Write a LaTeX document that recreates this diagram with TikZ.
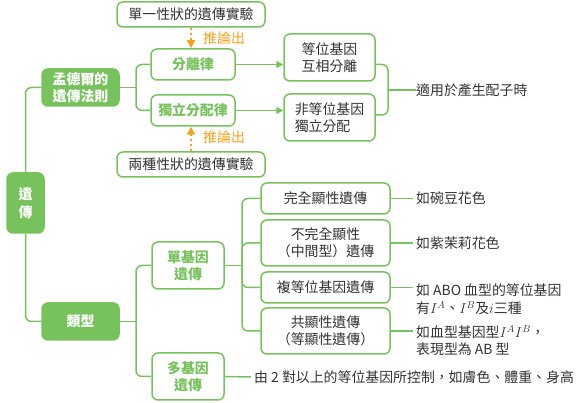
\documentclass[tikz,border=0pt]{standalone}
\usepackage{fontspec}
\setmainfont{Noto Sans CJK TC}
\usetikzlibrary{arrows.meta}
\definecolor{G}{HTML}{78C25E}
\definecolor{OR}{HTML}{F5A21B}
\definecolor{TX}{HTML}{333333}
\begin{document}
\begin{tikzpicture}[x=1pt,y=-1pt,
  every node/.style={font=\fontsize{13.9}{17.5}\selectfont, text=TX},
  box/.style={draw=G, line width=1.5pt, rounded corners=6pt, fill=white, align=center, inner sep=0pt},
  gbox/.style={box, font=\fontsize{13.9}{17.5}\selectfont\bfseries, text=G},
  fbox/.style={draw=G, fill=G, line width=1.5pt, rounded corners=6pt, align=center, inner sep=0pt, font=\fontsize{13.9}{17.5}\selectfont\bfseries, text=white},
  lab/.style={inner sep=0pt, align=left},
  conn/.style={draw=G, line width=1.5pt, rounded corners=6pt},
  garrow/.style={draw=G, line width=1.5pt, -{Triangle[length=7pt,width=7pt]}},
  oarrow/.style={draw=OR, line width=1.5pt, dash pattern=on 2.5pt off 2.5pt, -{Triangle[length=8pt,width=8pt]}},
  olab/.style={text=OR, inner sep=0pt}
]
\useasboundingbox (0,0) rectangle (582,403);

% top experiments
\node[box, minimum width=148pt, minimum height=25pt] (e1) at (191,14.5) {單一性狀的遺傳實驗};
\node[box, minimum width=148pt, minimum height=25pt] (e2) at (191,164.5) {兩種性狀的遺傳實驗};
\node[gbox, minimum width=84pt, minimum height=31pt] (law1) at (193,64.5) {分離律};
\node[gbox, minimum width=84pt, minimum height=31pt] (law2) at (193,110.5) {獨立分配律};
\node[box, minimum width=91pt, minimum height=47pt] (r1) at (329.5,57.5) {等位基因\\互相分離};
\node[box, minimum width=91pt, minimum height=47pt, align=left] (r2) at (329.5,117.5) {非等位基因\\獨立分配};
\node[lab, anchor=west] (app) at (416,90) {適用於產生配子時};
\node[olab, anchor=west] (inf1) at (203,38) {推論出};
\node[olab, anchor=west] (inf2) at (203,137) {推論出};

% root and main branches
\node[fbox, minimum width=37pt, minimum height=60pt] (root) at (25.5,203) {遺\\傳};
\node[fbox, minimum width=77pt, minimum height=37pt] (mendel) at (80.5,87.5) {孟德爾的\\遺傳法則};
\node[fbox, minimum width=77pt, minimum height=37pt] (type) at (80.5,321.5) {類型};

% types
\node[gbox, minimum width=72pt, minimum height=47pt] (single) at (188,265.5) {單基因\\遺傳};
\node[gbox, minimum width=72pt, minimum height=47pt] (multi) at (188,376.5) {多基因\\遺傳};
\node[box, minimum width=129pt, minimum height=31pt] (c1) at (325.5,198.5) {完全顯性遺傳};
\node[box, minimum width=129pt, minimum height=46pt] (c2) at (325.5,243) {不完全顯性\\（中間型）遺傳};
\node[box, minimum width=129pt, minimum height=31pt] (c3) at (325.5,287.5) {複等位基因遺傳};
\node[box, minimum width=129pt, minimum height=46pt] (c4) at (325.5,331) {共顯性遺傳\\（等顯性遺傳）};
\node[lab, anchor=west] (t1) at (416,198.5) {如碗豆花色};
\node[lab, anchor=west] (t2) at (416,243) {如紫茉莉花色};
\node[lab, anchor=north west] (t3) at (416,284) {如 ABO 血型的等位基因\\有$I^{A}$、$I^{B}$及$i$三種};
\node[lab, anchor=north west] (t4) at (416,325) {如血型基因型$I^{A}I^{B}$，\\表現型為 AB 型};
\node[lab, anchor=west] (mt) at (254,377) {由 2 對以上的等位基因所控制，如膚色、體重、身高};

% bus coordinates
\coordinate (b1) at (136,87.5);
\coordinate (b2) at (388,90);
\coordinate (b3) at (136,321.5);
\coordinate (b4) at (242,265.5);

% connectors
\draw[conn] (root.north) |- (mendel.west);
\draw[conn] (root.south) |- (type.west);
\draw[conn] (mendel.east) -- (b1);
\draw[conn] (b1) |- (law1.west);
\draw[conn] (b1) |- (law2.west);
\draw[garrow] (law1.east) -- (law1.east -| r1.west);
\draw[garrow] (law2.east) -- (law2.east -| r2.west);
\draw[conn] (r1.east |- law1.east) -| (b2) |- ([yshift=2.5pt]r2.east);
\draw[conn] (b2) -- (app.west);
\draw[oarrow] (e1.south) -- (e1.south |- law1.north);
\draw[oarrow] (e2.north) -- (e2.north |- law2.south);

\draw[conn] (type.east) -- (b3);
\draw[conn] (b3) |- (single.west);
\draw[conn] (b3) |- (multi.west);
\draw[conn] (single.east) -- (b4);
\draw[conn] (b4) |- (c1.west);
\draw[conn] (b4) |- (c2.west);
\draw[conn] (b4) |- (c3.west);
\draw[conn] (b4) |- (c4.west);
\draw[conn] (c1.east) -- ([xshift=-3pt]t1.west);
\draw[conn] (c2.east) -- ([xshift=-3pt]t2.west);
\draw[conn] (c3.east) -- ([xshift=-3pt]t3.west |- c3.east);
\draw[conn] (c4.east) -- ([xshift=-3pt]t4.west |- c4.east);
\draw[conn] (multi.east) -- ([xshift=-3pt]mt.west);
\end{tikzpicture}
\end{document}
